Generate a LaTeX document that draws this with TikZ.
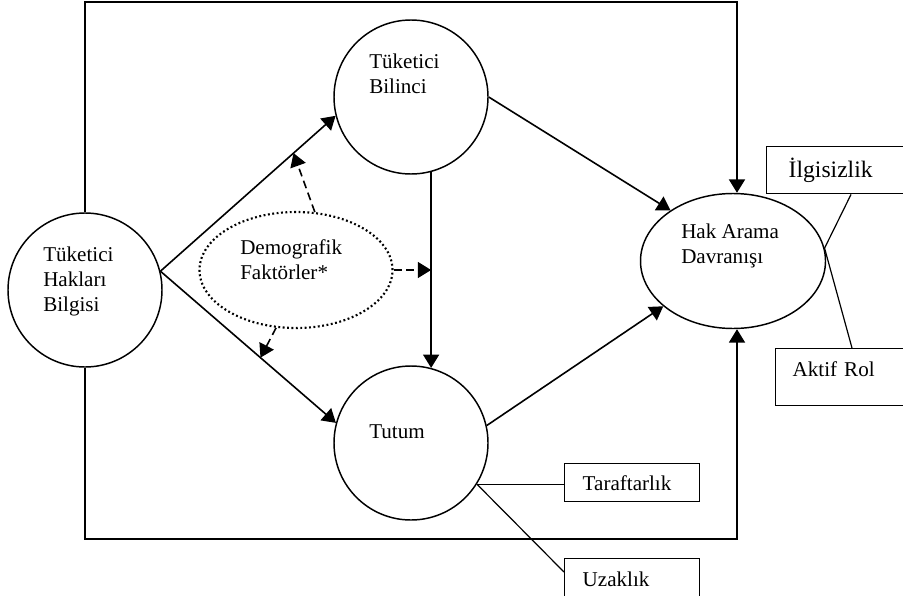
\documentclass[tikz,border=0pt]{standalone}
\usepackage{fontspec}
\setmainfont{Liberation Serif}
\usetikzlibrary{arrows.meta, positioning, calc, shapes.geometric}
\newcommand{\yazifont}{\fontsize{15.8}{18.75}\selectfont}
\newcommand{\buyukfont}{\fontsize{17.7}{21}\selectfont}

\tikzset{
  konu/.style={draw, circle, line width=1.1pt, minimum size=115.5pt, inner sep=0pt},
  hedef/.style={draw, ellipse, line width=1.1pt, minimum width=138.75pt, minimum height=101.25pt, inner sep=0pt},
  demo/.style={draw, ellipse, line width=1.6pt, dash pattern=on 1.4pt off 1.9pt, minimum width=144.75pt, minimum height=87pt, inner sep=0pt},
  yazi/.style={anchor=base west, align=left, inner sep=0pt, font=\yazifont},
  kutu/.style={draw, rectangle, line width=1.1pt, anchor=north west, align=left, inner ysep=0pt, font=\yazifont},
  ok/.style={-{Triangle[length=10pt, width=12pt]}, line width=1.2pt},
  kesik/.style={ok, dash pattern=on 6pt off 3.5pt},
  ince/.style={line width=0.9pt}
}

\begin{document}
\begin{tikzpicture}[x=0.75pt, y=-0.75pt]
  \useasboundingbox (0,0) rectangle (903,596);

  % ana kavramlar
  \node[konu] (thb) at (85,290) {};
  \node[konu] (tb) at (411,97) {};
  \node[konu] (tum) at (411,443) {};
  \node[hedef] (hak) at (733,261) {};
  \node[demo] (dem) at (296,270) {};

  % yazilar (son satirin tabani)
  \node[yazi] (thbyazi) at (43,311) {Tüketici\\Hakları\\Bilgisi};
  \node[yazi] (tbyazi) at (369,93) {Tüketici\\Bilinci};
  \node[yazi] (tumyazi) at (369,438) {Tutum};
  \node[yazi] (hakyazi) at (681,263) {Hak Arama\\Davranışı};
  \node[yazi] (demyazi) at (240,279) {Demografik\\Faktörler*};

  % yan kutular
  \node[kutu, font=\buyukfont, minimum width=120pt, minimum height=35.25pt,
        inner xsep=16.5pt, text width=87pt] (ilg) at (766,146) {İlgisizlik};
  \node[kutu, minimum width=120pt, minimum height=42.75pt, inner xsep=12.75pt,
        text width=94.5pt, text depth=12.75pt] (akt) at (775,348) {Aktif Rol};
  \node[kutu, minimum width=101.25pt, minimum height=28.5pt, inner xsep=13.5pt,
        text width=74.25pt] (tar) at (564,463) {Taraftarlık};
  \node[kutu, minimum width=101.25pt, minimum height=31.5pt, inner xsep=13.5pt,
        text width=74.25pt] (uza) at (564,558) {Uzaklık};

  % dis cerceve
  \coordinate (ust) at (737,2);
  \coordinate (alt) at (737,539);
  \draw[ok] (thb.north) |- (ust) -- (ust |- hak.north);
  \draw[ok] (thb.south) |- (alt) -- (alt |- hak.south);

  % iliskiler
  \draw[ok] (thb.14) -- (tb.194);
  \draw[ok] (thb.14) -- (tum.165);
  \draw[ok] (tb.east) -- (hak.141);
  \draw[ok] (tum.13) -- (hak.213);
  \draw[ok] (tb.-75) -- (tum.75);

  % demografik etkiler
  \draw[kesik] (dem.72) -- ($(thb.14)!0.76!(tb.194)$);
  \draw[kesik] (dem.east) -- (dem.east -| tb.-75);
  \draw[kesik] (dem.251) -- ($(thb.14)!0.57!(tum.165)$);

  % alt boyutlar
  \draw[ince] ($(ilg.south west)+(85,0)$) -- (hak.8);
  \draw[ince] (hak.8) -- ($(akt.north west)+(77,0)$);
  \draw[ince] (tum.-32) -- (tum.-32 -| tar.west);
  \draw[ince] (tum.-32) -- ($(uza.north west)+(0,14)$);
\end{tikzpicture}
\end{document}
